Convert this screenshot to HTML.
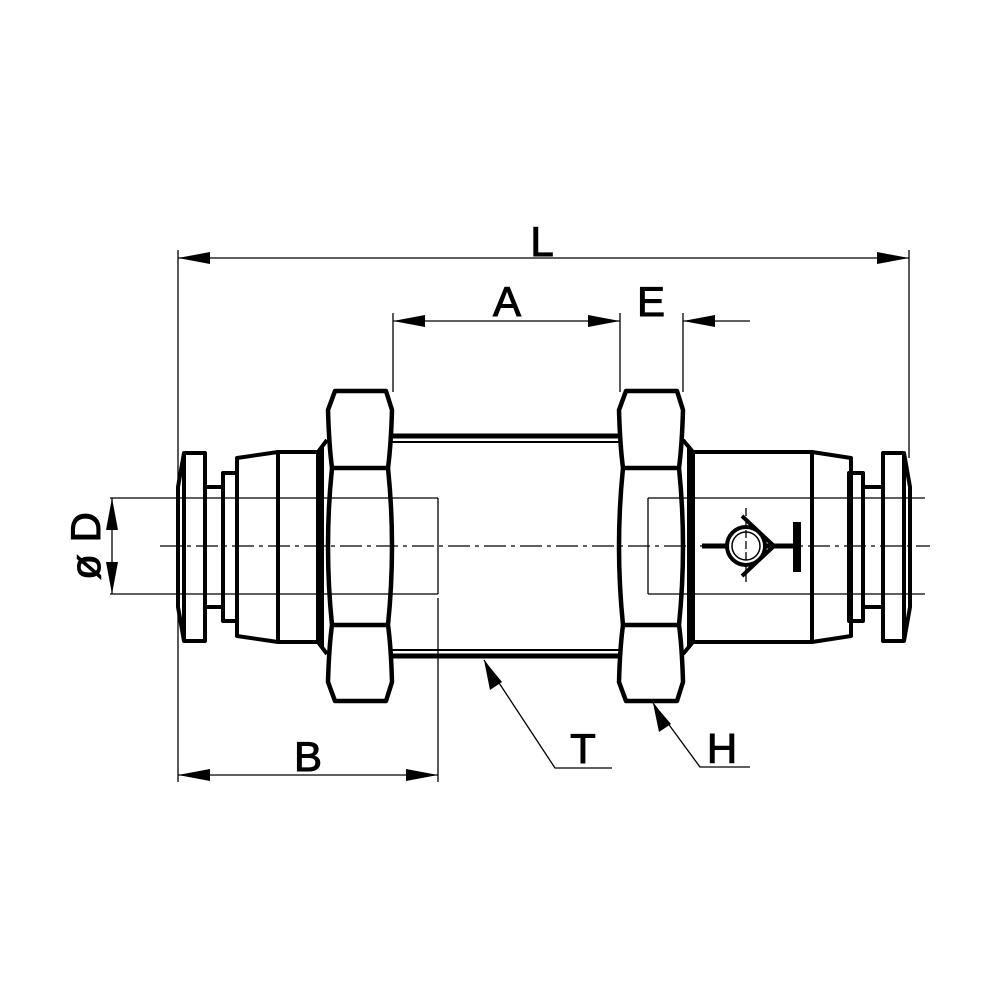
<!DOCTYPE html>
<html><head><style>html,body{margin:0;padding:0;background:#fff}svg{display:block}</style></head>
<body>
<svg width="1000" height="1000" viewBox="0 0 1000 1000" xmlns="http://www.w3.org/2000/svg">
<rect width="1000" height="1000" fill="#fff"/>
<g stroke="#000" stroke-width="1.3" fill="none">
<line x1="178" y1="250" x2="178" y2="782"/>
<line x1="909" y1="250" x2="909" y2="458"/>
<line x1="393" y1="313" x2="393" y2="392"/>
<line x1="620" y1="313" x2="620" y2="392"/>
<line x1="683" y1="313" x2="683" y2="392"/>
<line x1="438" y1="598" x2="438" y2="782"/>
<line x1="110" y1="498" x2="438" y2="498"/>
<line x1="438" y1="498" x2="438" y2="594"/>
<line x1="110" y1="594" x2="438" y2="594"/>
<line x1="648" y1="498" x2="925" y2="498"/>
<line x1="648" y1="498" x2="648" y2="594"/>
<line x1="648" y1="594" x2="925" y2="594"/>
<line x1="160" y1="546" x2="930" y2="546" stroke-dasharray="22,5,4,5"/>
<line x1="178" y1="258" x2="909" y2="258"/>
<line x1="393" y1="321" x2="620" y2="321"/>
<line x1="683" y1="321" x2="750" y2="321"/>
<line x1="178" y1="775" x2="438" y2="775"/>
<line x1="112" y1="498" x2="112" y2="594"/>
<polyline points="484,660 555,768 612,768"/>
<polyline points="653,703 700,767 750,767"/>
</g>
<g fill="#000">
<polygon points="178,258 210,252 210,264"/>
<polygon points="909,258 877,252 877,264"/>
<polygon points="393,321 425,315 425,327"/>
<polygon points="620,321 588,315 588,327"/>
<polygon points="683,321 715,315 715,327"/>
<polygon points="178,775 210,769 210,781"/>
<polygon points="438,775 406,769 406,781"/>
<polygon points="112,498 106,530 118,530"/>
<polygon points="112,594 106,562 118,562"/>
<polygon points="484,660 490,690 502,682"/>
<polygon points="653,703 659,732 671,724"/>
</g>
<g stroke="#000" stroke-width="4" fill="none" stroke-linejoin="round">
<line x1="392" y1="436" x2="620" y2="436" stroke-width="5"/>
<line x1="392" y1="442" x2="620" y2="442" stroke-width="2"/>
<line x1="392" y1="656" x2="620" y2="656" stroke-width="5"/>
<line x1="392" y1="650" x2="620" y2="650" stroke-width="2"/>
<path d="M184,453 L205,453 L205,641 L184,641 L178,607 L178,487 Z"/>
<line x1="184" y1="453" x2="184" y2="641"/>
<path d="M205,487 L223,487 M205,607 L223,607"/>
<rect x="223" y="473" width="14" height="148"/>
<path d="M237,458 L278,452 L278,642 L237,636 Z"/>
<rect x="278" y="452" width="40" height="190"/>
<path d="M318,452 L327,440 M318,642 L327,654"/>
<line x1="322" y1="446" x2="322" y2="648"/>
<path d="M904,453 L883,453 L883,641 L904,641 L910,607 L910,487 Z"/>
<line x1="904" y1="453" x2="904" y2="641"/>
<path d="M883,487 L863,487 M883,607 L863,607"/>
<rect x="849" y="473" width="14" height="148"/>
<path d="M812,452 L851,458 L851,636 L812,642 Z"/>
<rect x="693" y="452" width="119" height="190"/>
<path d="M693,452 L683,440 M693,642 L683,654"/>
<line x1="689" y1="446" x2="689" y2="648"/>
</g>
<g stroke="#000" stroke-width="4.5" fill="none" stroke-linejoin="round">
<path d="M335,391 L386,391 L392,410 Q391,445 388,468 Q396,546 388,625 Q391,647 392,682 L386,701 L335,701 L328,682 Q329,647 332,625 Q324,546 332,468 Q329,445 328,410 Z"/>
<line x1="332" y1="468" x2="388" y2="468"/>
<line x1="332" y1="625" x2="388" y2="625"/>
<path d="M626,391 L677,391 L683,410 Q682,445 679,468 Q687,546 679,625 Q682,647 683,682 L677,701 L626,701 L619,682 Q620,647 623,625 Q615,546 623,468 Q620,445 619,410 Z"/>
<line x1="623" y1="468" x2="679" y2="468"/>
<line x1="623" y1="625" x2="679" y2="625"/>
</g>
<g stroke="#000" fill="none">
<line x1="702" y1="546" x2="797" y2="546" stroke-width="5"/>
<line x1="797" y1="522" x2="797" y2="572" stroke-width="8"/>
<circle cx="746" cy="546" r="19" fill="#fff" stroke-width="4"/>
<circle cx="746" cy="546" r="14" stroke-width="1.5"/>
<polyline points="742,516 774,546 742,576" stroke-width="4"/>
<line x1="746" y1="508" x2="746" y2="584" stroke-width="1.3" stroke-dasharray="8,3"/>
</g>
<g font-family="'Liberation Sans', sans-serif" font-size="42" fill="#000" text-anchor="middle" stroke="#000" stroke-width="1">
<text x="542" y="256">L</text>
<text x="507" y="316">A</text>
<text x="651" y="316">E</text>
<text x="308" y="771">B</text>
<text x="583" y="763">T</text>
<text x="722" y="763">H</text>
<text transform="translate(100,546) rotate(-90)">ø D</text>
</g>
</svg>
</body></html>
